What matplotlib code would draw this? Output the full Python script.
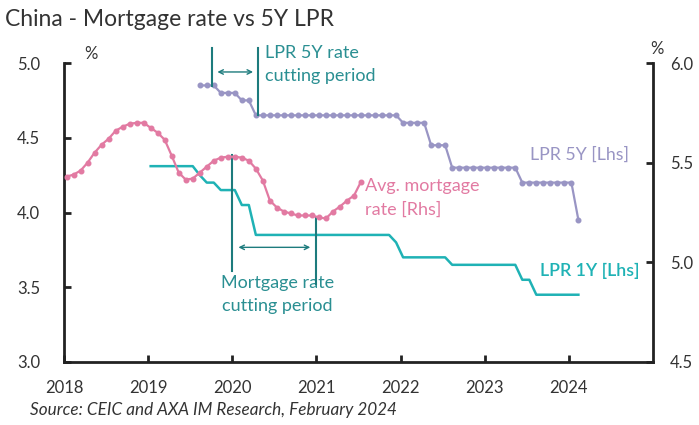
import matplotlib.pyplot as plt

plt.rcParams["font.family"] = ["Lato", "DejaVu Sans"]

# Monthly data, x = year + (month - 1) / 12
MONTH_OFFSET = 0.03

# Avg. mortgage rate, Jan 2018 - Jul 2021 (right axis)
mortgage_start = 2018.0
mortgage_rate = [
    5.43, 5.44, 5.46, 5.50, 5.55, 5.59, 5.62, 5.66, 5.68, 5.695, 5.70, 5.70,
    5.675, 5.65, 5.615, 5.535, 5.45, 5.415, 5.42, 5.45, 5.48, 5.51, 5.525, 5.53,
    5.53, 5.525, 5.51, 5.47, 5.41, 5.31, 5.275, 5.255, 5.245, 5.235, 5.235, 5.235,
    5.225, 5.22, 5.255, 5.28, 5.31, 5.335, 5.405,
]

# LPR 5Y, Aug 2019 - Feb 2024 (left axis)
lpr5y_start = 2019 + 7 / 12
lpr5y = (
    [4.85, 4.85, 4.85, 4.80, 4.80]
    + [4.80, 4.75, 4.75] + [4.65] * 9
    + [4.65] * 12
    + [4.60] * 4 + [4.45] * 3 + [4.30] * 5
    + [4.30] * 5 + [4.20] * 7
    + [4.20, 3.95]
)

# LPR 1Y, Jan 2019 - Feb 2024 (left axis)
lpr1y_start = 2019.0
lpr1y = (
    [4.31] * 7 + [4.25, 4.20, 4.20, 4.15, 4.15]
    + [4.15, 4.05, 4.05] + [3.85] * 9
    + [3.85] * 11 + [3.80]
    + [3.70] * 7 + [3.65] * 5
    + [3.65] * 5 + [3.55] * 2 + [3.45] * 5
    + [3.45, 3.45]
)

x_ticks = [2018, 2019, 2020, 2021, 2022, 2023, 2024]
left_ticks = [3.0, 3.5, 4.0, 4.5, 5.0]
right_ticks = [4.5, 5.0, 5.5, 6.0]

PINK = "#e27aa2"
PURPLE = "#9995c4"
TEAL = "#1fb2b5"
DARK_TEAL = "#1d7b7d"
NOTE = "#2a8f92"
TEXT = "#333333"


def month_x(start, values):
    return [start + i / 12 + MONTH_OFFSET for i in range(len(values))]


fig = plt.figure(figsize=(6.99, 4.25), dpi=100)
ax = fig.add_axes([64 / 699, 1 - 362 / 425, 589 / 699, 299 / 425])
ax2 = ax.twinx()

ax.plot(month_x(lpr1y_start, lpr1y), lpr1y, color=TEAL, lw=1.8, zorder=3)
ax.plot(month_x(lpr5y_start, lpr5y), lpr5y, color=PURPLE, lw=1.6,
        marker="o", ms=3.3, zorder=3)
ax2.plot(month_x(mortgage_start, mortgage_rate), mortgage_rate, color=PINK,
         lw=1.6, marker="o", ms=3.3, zorder=3)

ax.set_xlim(2018, 2025)
ax.set_ylim(3.0, 5.0)
ax2.set_ylim(4.5, 6.0)
ax.set_xticks(x_ticks)
ax.set_yticks(left_ticks)
ax2.set_yticks(right_ticks)
ax.set_yticklabels([f"{v:.1f}" for v in left_ticks])
ax2.set_yticklabels([f"{v:.1f}" for v in right_ticks])

for a in (ax, ax2):
    a.spines["top"].set_visible(False)
    for side in ("left", "right", "bottom"):
        a.spines[side].set_linewidth(2)
        a.spines[side].set_color("#222222")
ax.spines["right"].set_visible(False)
ax2.spines["left"].set_visible(False)
ax2.spines["bottom"].set_visible(False)

ax.tick_params(axis="both", direction="in", length=5, width=2,
               color="#222222", labelsize=12, labelcolor=TEXT)
ax.tick_params(axis="y", pad=17)
ax.tick_params(axis="x", pad=13)
ax2.tick_params(axis="y", direction="in", length=5, width=2,
                color="#222222", labelsize=12, labelcolor=TEXT, pad=12)

ax.text(2018.24, 5.03, "%", fontsize=12, color=TEXT)
ax2.text(1.0075, 1.03, "%", transform=ax2.transAxes,
         fontsize=12, color=TEXT, ha="center")

# LPR 5Y cutting period
ax.plot([2019.76, 2019.76], [5.10, 4.847], color=DARK_TEAL, lw=1.5,
        clip_on=False, zorder=4)
ax.plot([2020.31, 2020.31], [5.10, 4.653], color=DARK_TEAL, lw=1.5,
        clip_on=False, zorder=4)
ax.annotate("", xy=(2019.79, 4.94), xytext=(2020.28, 4.94),
            arrowprops=dict(arrowstyle="<->", color=DARK_TEAL, lw=1,
                            mutation_scale=8))
ax.text(2020.39, 4.99, "LPR 5Y rate\ncutting period", color=NOTE,
        fontsize=13, va="center", ha="left", linespacing=1.5)

# Mortgage rate cutting period
ax.plot([2020.0, 2020.0], [4.387, 3.607], color=DARK_TEAL, lw=1.5, zorder=4)
ax.plot([2021.0, 2021.0], [3.967, 3.52], color=DARK_TEAL, lw=1.5, zorder=4)
ax.annotate("", xy=(2020.04, 3.767), xytext=(2020.96, 3.767),
            arrowprops=dict(arrowstyle="<->", color=DARK_TEAL, lw=1,
                            mutation_scale=8))
ax.text(2020.54, 3.45, "Mortgage rate\ncutting period", color=NOTE,
        fontsize=13, va="center", ha="center", linespacing=1.5)

# Series labels
ax.text(2021.58, 4.097, "Avg. mortgage\nrate [Rhs]", color=PINK,
        fontsize=13, va="center", ha="left", linespacing=1.55)
ax.text(2023.54, 4.387, "LPR 5Y [Lhs]", color=PURPLE, fontsize=12.8,
        va="center", ha="left")
ax.text(2023.66, 3.607, "LPR 1Y [Lhs]", color=TEAL, fontsize=12.8,
        va="center", ha="left", fontweight="semibold")

fig.text(5 / 699, 1 - 20 / 425, "China - Mortgage rate vs 5Y LPR",
         fontsize=16.5, color=TEXT, va="center", ha="left")
fig.text(30 / 699, 1 - 410 / 425,
         "Source: CEIC and AXA IM Research, February 2024",
         fontsize=12.3, style="italic", color=TEXT, va="center", ha="left")

fig.savefig("out.png", dpi=100)
